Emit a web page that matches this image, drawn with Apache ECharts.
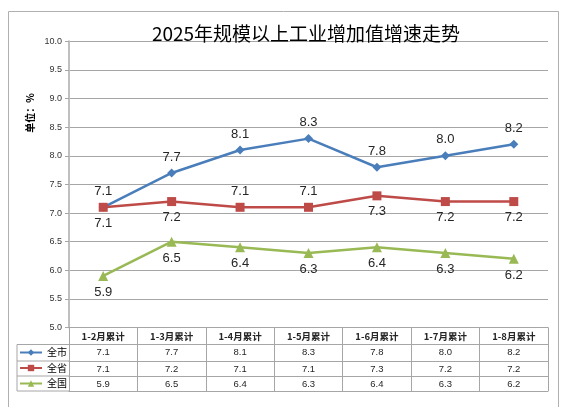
<!DOCTYPE html>
<html>
<head>
<meta charset="utf-8">
<script src="https://cdn.jsdelivr.net/npm/echarts@6.0.0/dist/echarts.min.js"></script>
<style>
  html, body { margin: 0; padding: 0; background: #fff; }
  #chart { width: 570px; height: 415px; }
</style>
</head>
<body>
<div id="chart"></div>
<script>
// * Chart data
const categories = ["1-2月累计", "1-3月累计", "1-4月累计", "1-5月累计", "1-6月累计", "1-7月累计", "1-8月累计"];
const seriesNames = ["全市", "全省", "全国"];
const cityValues = [7.1, 7.7, 8.1, 8.3, 7.8, 8.0, 8.2];
const provinceValues = [7.1, 7.2, 7.1, 7.1, 7.3, 7.2, 7.2];
const nationValues = [5.9, 6.5, 6.4, 6.3, 6.4, 6.3, 6.2];
const yTicks = { min: 5, max: 10, step: 0.5 };

// * Styling
const colors = ["#4a7ebb", "#be4b48", "#98b954"];
const symbols = ["diamond", "rect", "triangle"];
const symbolSizes = [9, 9, 10];
const provinceLabelPos = ["bottom", "bottom", "top", "top", "bottom", "bottom", "bottom"];
const lineGray = "#a6a6a6";
const textColor = "#262626";

// ! Layout of the plot and its data table (pixels)
const gridLeft = 69;
const gridRight = 548;
const gridTop = 41.3;
const gridBottom = 327.5;
const rowLines = [17, 33.5, 48.5, 63.5]; // offsets below the x axis
const legendLeft = 17;

const allValues = [cityValues, provinceValues, nationValues];

// * Extra category axes used as table rows
function rowAxis(offset, values) {
  return {
    type: "category",
    data: values ? values.map((v) => v.toFixed(1)) : categories,
    position: "bottom",
    offset: offset,
    axisLine: { show: true, lineStyle: { color: lineGray, width: 1 } },
    axisTick: { show: false },
    axisLabel: {
      show: !!values,
      interval: 0,
      margin: 8,
      verticalAlign: "middle",
      fontSize: 9.5,
      fontFamily: "Liberation Sans",
      color: textColor,
    },
  };
}

const series = allValues.map((values, i) => ({
  name: seriesNames[i],
  type: "line",
  data: values.map((v, j) => {
    let pos = i === 0 ? "top" : "bottom";
    if (i === 1) pos = provinceLabelPos[j];
    return { value: v, label: { position: pos } };
  }),
  color: colors[i],
  symbol: symbols[i],
  symbolSize: symbolSizes[i],
  showAllSymbol: true,
  lineStyle: { width: 2.5, color: colors[i] },
  itemStyle: { color: colors[i] },
  label: {
    show: true,
    distance: 5,
    fontSize: 13,
    fontFamily: "Liberation Sans",
    color: textColor,
    formatter: (p) => p.value.toFixed(1),
  },
  animation: false,
}));

// ? Lines for the legend column of the table
const legendLines = [];
rowLines.forEach((off) => {
  legendLines.push({
    type: "line",
    shape: { x1: legendLeft, y1: gridBottom + off, x2: gridLeft, y2: gridBottom + off },
    style: { stroke: lineGray, lineWidth: 1 },
    silent: true,
  });
});
legendLines.push({
  type: "line",
  shape: { x1: legendLeft, y1: gridBottom + rowLines[0], x2: legendLeft, y2: gridBottom + rowLines[3] },
  style: { stroke: lineGray, lineWidth: 1 },
  silent: true,
});

const myChart = echarts.init(document.getElementById("chart"), null, { renderer: "canvas" });

const option = {
  backgroundColor: "#fff",
  animation: false,
  title: {
    text: "2025年规模以上工业增加值增速走势",
    left: 306,
    textAlign: "center",
    top: 24,
    padding: 0,
    textStyle: {
      fontSize: 19,
      fontWeight: "normal",
      fontFamily: "Noto Sans CJK SC",
      color: "#000",
    },
  },
  legend: {
    orient: "vertical",
    left: legendLeft + 2,
    top: gridBottom + rowLines[0] + 0.5,
    padding: 0,
    itemGap: 0.5,
    itemWidth: 22,
    itemHeight: 8,
    data: seriesNames,
    textStyle: {
      fontSize: 10,
      lineHeight: 15,
      fontFamily: "Noto Sans CJK SC",
      color: "#000",
    },
  },
  grid: {
    left: gridLeft,
    right: 570 - gridRight,
    top: gridTop,
    bottom: 415 - gridBottom,
    containLabel: false,
    outerBoundsMode: "none",
  },
  xAxis: [
    {
      type: "category",
      data: categories,
      position: "bottom",
      boundaryGap: true,
      axisLine: { show: true, lineStyle: { color: lineGray, width: 1 } },
      axisTick: {
        show: true,
        interval: 0,
        inside: false,
        length: rowLines[3],
        lineStyle: { color: lineGray, width: 1 },
      },
      axisLabel: {
        interval: 0,
        margin: 8.5,
        verticalAlign: "middle",
        fontSize: 9.5,
        fontWeight: "bold",
        fontFamily: "Noto Sans CJK SC",
        color: textColor,
      },
      splitLine: { show: false },
    },
    rowAxis(rowLines[0], cityValues),
    rowAxis(rowLines[1], provinceValues),
    rowAxis(rowLines[2], nationValues),
    rowAxis(rowLines[3], null),
  ],
  yAxis: {
    type: "value",
    min: yTicks.min,
    max: yTicks.max,
    interval: yTicks.step,
    axisLine: { show: true, lineStyle: { color: "#bfbfbf", width: 2 } },
    axisTick: { show: true, length: 4, lineStyle: { color: "#a6a6a6" } },
    axisLabel: {
      margin: 7,
      fontSize: 9,
      fontFamily: "Liberation Sans",
      color: "#333",
      formatter: (v) => v.toFixed(1),
    },
    splitLine: { show: true, lineStyle: { color: "#a6a6a6", width: 1 } },
  },
  graphic: [
    // * Outer frame (left, top, right)
    {
      type: "polyline",
      shape: { points: [[8.5, 407], [8.5, 11.5], [558.5, 11.5], [558.5, 407]] },
      style: { stroke: "#b0b0b0", fill: null, lineWidth: 1 },
      silent: true,
    },
    // * Unit label
    {
      type: "text",
      x: 30,
      y: 113,
      rotation: Math.PI / 2,
      style: {
        text: "单位：%",
        fontSize: 10,
        fontWeight: "bold",
        fontFamily: "Noto Sans CJK SC",
        fill: "#000",
        align: "center",
        verticalAlign: "middle",
      },
      silent: true,
    },
    ...legendLines,
  ],
  series: series,
};

myChart.setOption(option);
</script>
</body>
</html>
